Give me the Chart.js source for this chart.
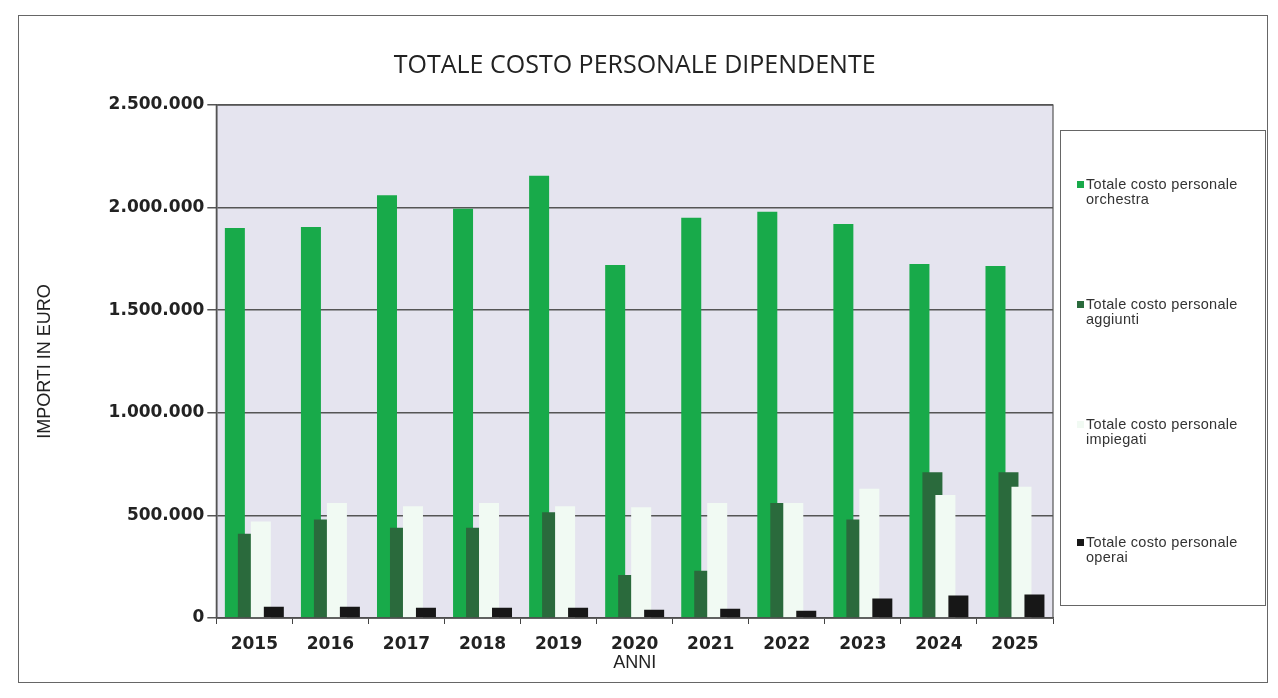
<!DOCTYPE html>
<html>
<head>
<meta charset="utf-8">
<script src="https://cdn.jsdelivr.net/npm/chart.js@4"></script>
<style>
  html, body { margin: 0; padding: 0; background: #fff; }
  #wrap { position: relative; width: 1278px; height: 698px; }
  #frame { position: absolute; left: 18px; top: 15px; width: 1250px; height: 668px; border: 1.5px solid #666; box-sizing: border-box; }
  #legend { position: absolute; left: 1060px; top: 130px; width: 206px; height: 476px; border: 1px solid #666; box-sizing: border-box; font-family: "Liberation Sans", Arial, sans-serif; font-size: 14.5px; letter-spacing: 0.3px; color: #333; }
  .item { position: absolute; left: 16px; width: 186px; line-height: 15px; white-space: nowrap; }
  .item span.sq { display: inline-block; width: 7px; height: 7px; margin-right: 2px; vertical-align: 1px; }
  .item div { padding-left: 9px; }
</style>
</head>
<body>
<div id="wrap">
  <div id="frame"></div>
  <canvas id="costChart" width="1278" height="698"></canvas>
  <div id="legend"></div>
</div>
<script>
/* ================= DATA ================= */
const anni = ["2015", "2016", "2017", "2018", "2019", "2020", "2021", "2022", "2023", "2024", "2025"];
const orchestra = [1900000, 1905000, 2060000, 1995000, 2155000, 1720000, 1950000, 1980000, 1920000, 1725000, 1715000];
const aggiunti  = [410000, 480000, 440000, 440000, 515000, 210000, 230000, 560000, 480000, 710000, 710000];
const impiegati = [470000, 560000, 545000, 560000, 545000, 540000, 560000, 560000, 630000, 600000, 640000];
const operai    = [55000, 55000, 50000, 50000, 50000, 40000, 45000, 35000, 95000, 110000, 115000];
const yTicks = [0, 500000, 1000000, 1500000, 2000000, 2500000];

const seriesNames = [
  ["Totale costo personale", "orchestra"],
  ["Totale costo personale", "aggiunti"],
  ["Totale costo personale", "impiegati"],
  ["Totale costo personale", "operai"]
];
const seriesColors = ["#18aa4a", "#2a6a3c", "#f1faf3", "#171717"];

function fmt(v) {
  return v.toString().replace(/\B(?=(\d{3})+(?!\d))/g, ".");
}

/* ================= PLUGINS ================= */
// lavender plot area + border
const plotArea = {
  id: "plotArea",
  beforeDraw(chart) {
    const { ctx, chartArea: a } = chart;
    ctx.save();
    ctx.fillStyle = "#e5e4ef";
    ctx.fillRect(a.left, a.top, a.right - a.left, a.bottom - a.top);
    ctx.restore();
  },
  afterDraw(chart) {
    const { ctx, chartArea: a } = chart;
    ctx.save();
    ctx.strokeStyle = "#555";
    ctx.lineWidth = 1.2;
    ctx.strokeRect(a.left, a.top, a.right - a.left, a.bottom - a.top);
    ctx.restore();
  }
};

// draw series left to right so later ones overlap earlier ones (like Excel)
const drawOrder = {
  id: "drawOrder",
  beforeDatasetsDraw(chart) {
    for (let i = 0; i < chart.data.datasets.length; i++) {
      chart._drawDataset(chart.getDatasetMeta(i));
    }
    return false;
  }
};

/* ================= CHART ================= */
const datasets = [orchestra, aggiunti, impiegati, operai].map((values, i) => ({
  label: seriesNames[i].join(" "),
  data: values,
  backgroundColor: seriesColors[i],
  borderWidth: 0,
  categoryPercentage: 0.683,
  barPercentage: 1.54
}));

new Chart(document.getElementById("costChart"), {
  type: "bar",
  data: { labels: anni, datasets },
  options: {
    responsive: false,
    animation: false,
    layout: { padding: { top: 51, left: 28, right: 225, bottom: 22 } },
    plugins: {
      legend: { display: false },
      tooltip: { enabled: false },
      title: {
        display: true,
        fullSize: false,
        text: "TOTALE COSTO PERSONALE DIPENDENTE",
        color: "#222",
        font: { family: "'Open Sans', sans-serif", size: 25, weight: "normal", lineHeight: 1.2 },
        padding: { top: 0, bottom: 24 }
      }
    },
    scales: {
      x: {
        grid: { display: true, drawOnChartArea: false, color: "#444", tickLength: 6, offset: true },
        border: { color: "#444", width: 1.5 },
        ticks: {
          color: "#222",
          padding: 12,
          font: { family: "'DejaVu Sans', sans-serif", size: 17, weight: "bold", lineHeight: 1 }
        },
        title: {
          display: true,
          text: "ANNI",
          color: "#222",
          font: { family: "'Liberation Sans', Arial, sans-serif", size: 18, lineHeight: 1 },
          padding: { top: -11, bottom: 4 }
        }
      },
      y: {
        min: 0,
        max: 2500000,
        afterBuildTicks(scale) {
          scale.ticks = yTicks.map(v => ({ value: v }));
        },
        grid: { color: "#555", lineWidth: 1.5, tickLength: 9 },
        border: { color: "#444", width: 1.5 },
        ticks: {
          color: "#222",
          padding: 3,
          font: { family: "'DejaVu Sans', sans-serif", size: 17, weight: "bold" },
          callback: v => fmt(v)
        },
        title: {
          display: true,
          text: "IMPORTI IN EURO",
          color: "#222",
          font: { family: "'Liberation Sans', Arial, sans-serif", size: 18 },
          padding: { top: 6, bottom: 50 }
        }
      }
    }
  },
  plugins: [plotArea, drawOrder]
});

/* ================= LEGEND ================= */
const legendTops = [46, 166, 286, 404];
let out = "";
seriesNames.forEach((name, i) => {
  out += `
    <div class="item" style="top:${legendTops[i]}px">
      <span class="sq" style="background:${seriesColors[i]}"></span>${name[0]}
      <div>${name[1]}</div>
    </div>`;
});
document.getElementById("legend").innerHTML = out;
</script>
</body>
</html>
